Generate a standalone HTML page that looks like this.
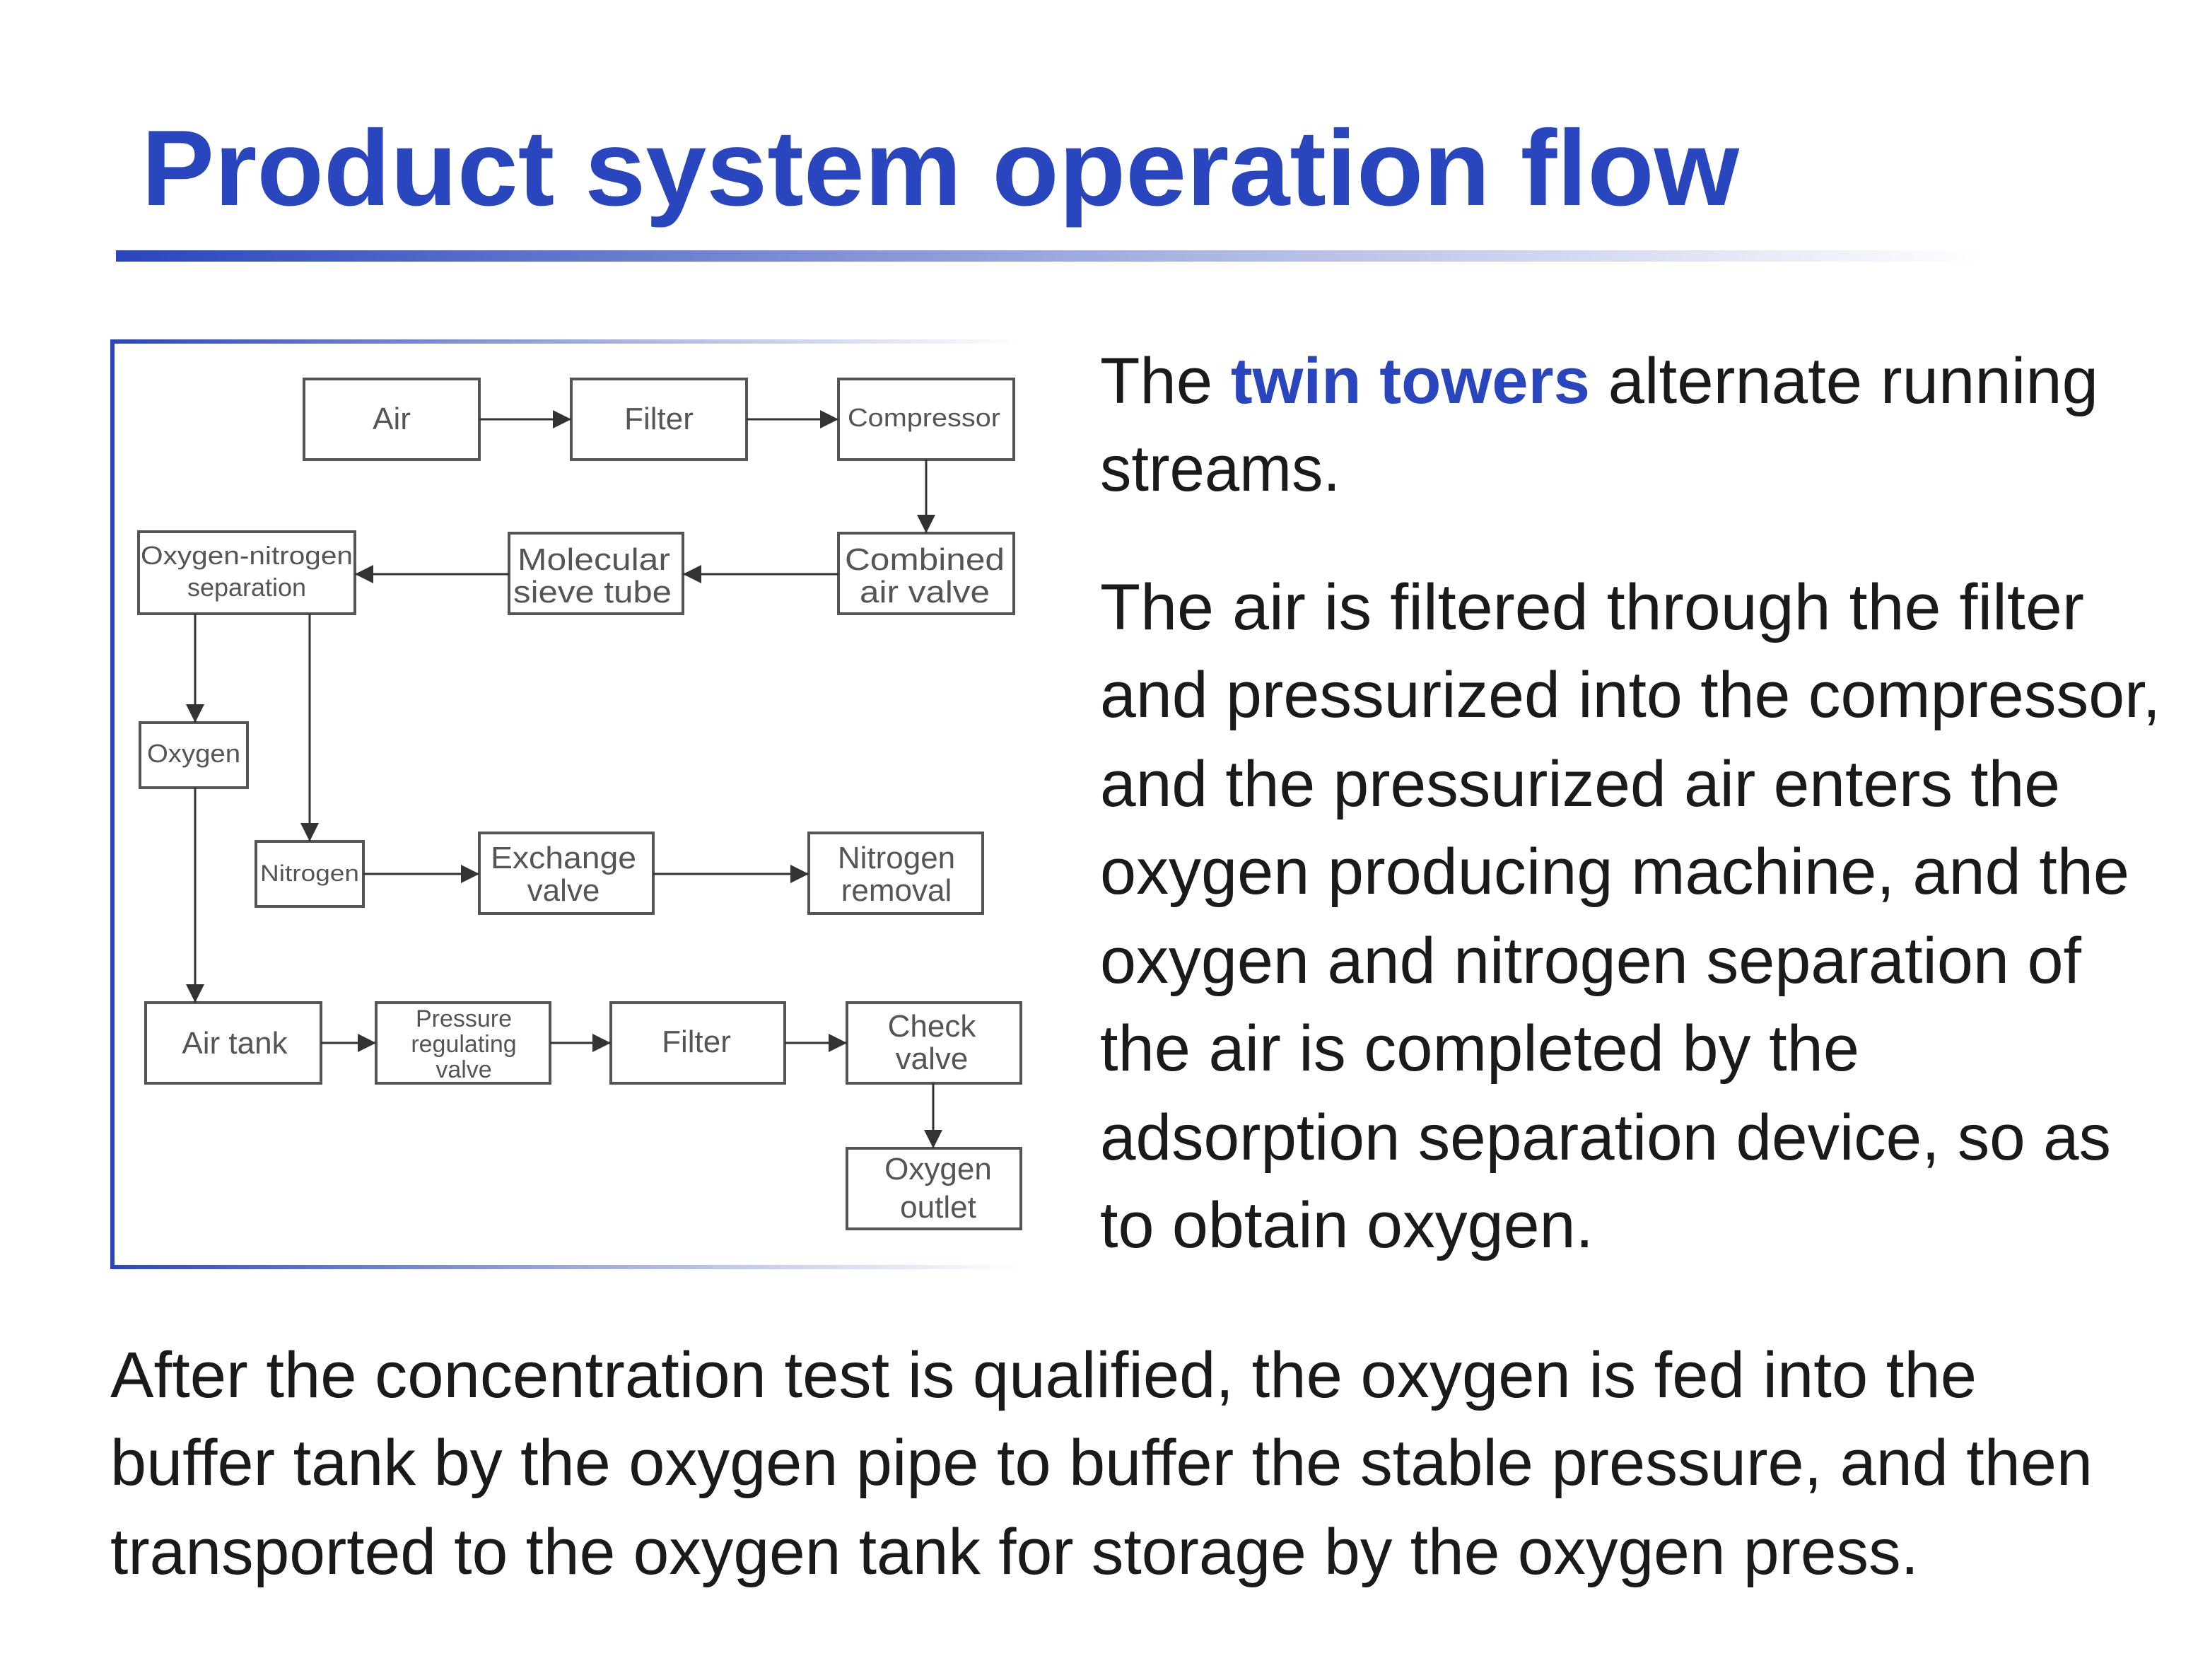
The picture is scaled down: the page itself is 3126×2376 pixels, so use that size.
<!DOCTYPE html>
<html><head><meta charset="utf-8"><style>html,body{margin:0;padding:0;background:#fff}svg{display:block}</style></head>
<body>
<svg width="3126" height="2376" viewBox="0 0 3126 2376" xmlns="http://www.w3.org/2000/svg" font-family="Liberation Sans, sans-serif">
<defs>
<linearGradient id="bar" x1="0" x2="1" y1="0" y2="0">
<stop offset="0" stop-color="#2a46be"/><stop offset="0.5" stop-color="#9aa8de"/><stop offset="1" stop-color="#ffffff"/>
</linearGradient>
<marker id="ah" viewBox="0 0 10 10" refX="10" refY="5" markerWidth="26" markerHeight="26" markerUnits="userSpaceOnUse" orient="auto">
<path d="M0,0 L10,5 L0,10 z" fill="#333"/></marker>
</defs>
<text x="200" y="290" font-size="152" font-weight="bold" fill="#2a46be" textLength="2260" lengthAdjust="spacingAndGlyphs">Product system operation flow</text>
<rect x="164" y="354" width="2640" height="16" fill="url(#bar)"/>
<rect x="156" y="480" width="1290" height="6" fill="url(#bar)"/>
<rect x="156" y="1789" width="1290" height="6" fill="url(#bar)"/>
<rect x="156" y="480" width="6" height="1315" fill="#2a46be"/>
<g fill="#fff" stroke="#555" stroke-width="4">
<rect x="430" y="536" width="248" height="114"/>
<rect x="808" y="536" width="248" height="114"/>
<rect x="1186" y="536" width="248" height="114"/>
<rect x="1186" y="754" width="248" height="114"/>
<rect x="720" y="754" width="246" height="114"/>
<rect x="196" y="752" width="306" height="116"/>
<rect x="198" y="1022" width="152" height="92"/>
<rect x="362" y="1190" width="152" height="92"/>
<rect x="678" y="1178" width="246" height="114"/>
<rect x="1144" y="1178" width="246" height="114"/>
<rect x="206" y="1418" width="248" height="114"/>
<rect x="532" y="1418" width="246" height="114"/>
<rect x="864" y="1418" width="246" height="114"/>
<rect x="1198" y="1418" width="246" height="114"/>
<rect x="1198" y="1624" width="246" height="114"/>
</g>
<g stroke="#333" stroke-width="3" fill="none" marker-end="url(#ah)">
<line x1="678" y1="593" x2="808" y2="593"/>
<line x1="1056" y1="593" x2="1186" y2="593"/>
<line x1="1310" y1="650" x2="1310" y2="754"/>
<line x1="1186" y1="812" x2="966" y2="812"/>
<line x1="720" y1="812" x2="502" y2="812"/>
<line x1="276" y1="868" x2="276" y2="1022"/>
<line x1="438" y1="868" x2="438" y2="1190"/>
<line x1="276" y1="1114" x2="276" y2="1418"/>
<line x1="514" y1="1236" x2="678" y2="1236"/>
<line x1="924" y1="1236" x2="1144" y2="1236"/>
<line x1="454" y1="1475" x2="532" y2="1475"/>
<line x1="778" y1="1475" x2="864" y2="1475"/>
<line x1="1110" y1="1475" x2="1198" y2="1475"/>
<line x1="1320" y1="1532" x2="1320" y2="1624"/>
</g>
<g fill="#555" text-anchor="middle" font-size="44">
<text x="554" y="607">Air</text>
<text x="932" y="607">Filter</text>
<text x="1307" y="603" font-size="36" textLength="216" lengthAdjust="spacingAndGlyphs">Compressor</text>
<text x="1308" y="806" textLength="226" lengthAdjust="spacingAndGlyphs">Combined</text>
<text x="1308" y="852" textLength="184" lengthAdjust="spacingAndGlyphs">air valve</text>
<text x="840" y="806" textLength="216" lengthAdjust="spacingAndGlyphs">Molecular</text>
<text x="838" y="852" textLength="224" lengthAdjust="spacingAndGlyphs">sieve tube</text>
<text x="349" y="798" font-size="36" textLength="300" lengthAdjust="spacingAndGlyphs">Oxygen-nitrogen</text>
<text x="349" y="843" font-size="36">separation</text>
<text x="274" y="1078" font-size="36" textLength="132" lengthAdjust="spacingAndGlyphs">Oxygen</text>
<text x="438" y="1246" font-size="32" textLength="140" lengthAdjust="spacingAndGlyphs">Nitrogen</text>
<text x="797" y="1228" textLength="206" lengthAdjust="spacingAndGlyphs">Exchange</text>
<text x="797" y="1274">valve</text>
<text x="1268" y="1228">Nitrogen</text>
<text x="1268" y="1274">removal</text>
<text x="332" y="1490">Air tank</text>
<text x="656" y="1452" font-size="34">Pressure</text>
<text x="656" y="1488" font-size="34">regulating</text>
<text x="656" y="1524" font-size="34">valve</text>
<text x="985" y="1488">Filter</text>
<text x="1318" y="1466">Check</text>
<text x="1318" y="1512">valve</text>
<text x="1327" y="1668">Oxygen</text>
<text x="1327" y="1722">outlet</text>
</g>
<g fill="#1a1a1a" font-size="92">
<text x="1556" y="570" textLength="1412" lengthAdjust="spacingAndGlyphs">The <tspan fill="#2a46be" font-weight="bold">twin towers</tspan> alternate running</text>
<text x="1556" y="694" textLength="340" lengthAdjust="spacingAndGlyphs">streams.</text>
<text x="1556" y="890" textLength="1392" lengthAdjust="spacingAndGlyphs">The air is filtered through the filter</text>
<text x="1556" y="1014" textLength="1500" lengthAdjust="spacingAndGlyphs">and pressurized into the compressor,</text>
<text x="1556" y="1140" textLength="1358" lengthAdjust="spacingAndGlyphs">and the pressurized air enters the</text>
<text x="1556" y="1264" textLength="1456" lengthAdjust="spacingAndGlyphs">oxygen producing machine, and the</text>
<text x="1556" y="1390" textLength="1388" lengthAdjust="spacingAndGlyphs">oxygen and nitrogen separation of</text>
<text x="1556" y="1514" textLength="1074" lengthAdjust="spacingAndGlyphs">the air is completed by the</text>
<text x="1556" y="1640" textLength="1430" lengthAdjust="spacingAndGlyphs">adsorption separation device, so as</text>
<text x="1556" y="1764" textLength="698" lengthAdjust="spacingAndGlyphs">to obtain oxygen.</text>
<text x="156" y="1976" textLength="2640" lengthAdjust="spacingAndGlyphs">After the concentration test is qualified, the oxygen is fed into the</text>
<text x="156" y="2100" textLength="2804" lengthAdjust="spacingAndGlyphs">buffer tank by the oxygen pipe to buffer the stable pressure, and then</text>
<text x="156" y="2226" textLength="2558" lengthAdjust="spacingAndGlyphs">transported to the oxygen tank for storage by the oxygen press.</text>
</g>
</svg>
</body></html>
